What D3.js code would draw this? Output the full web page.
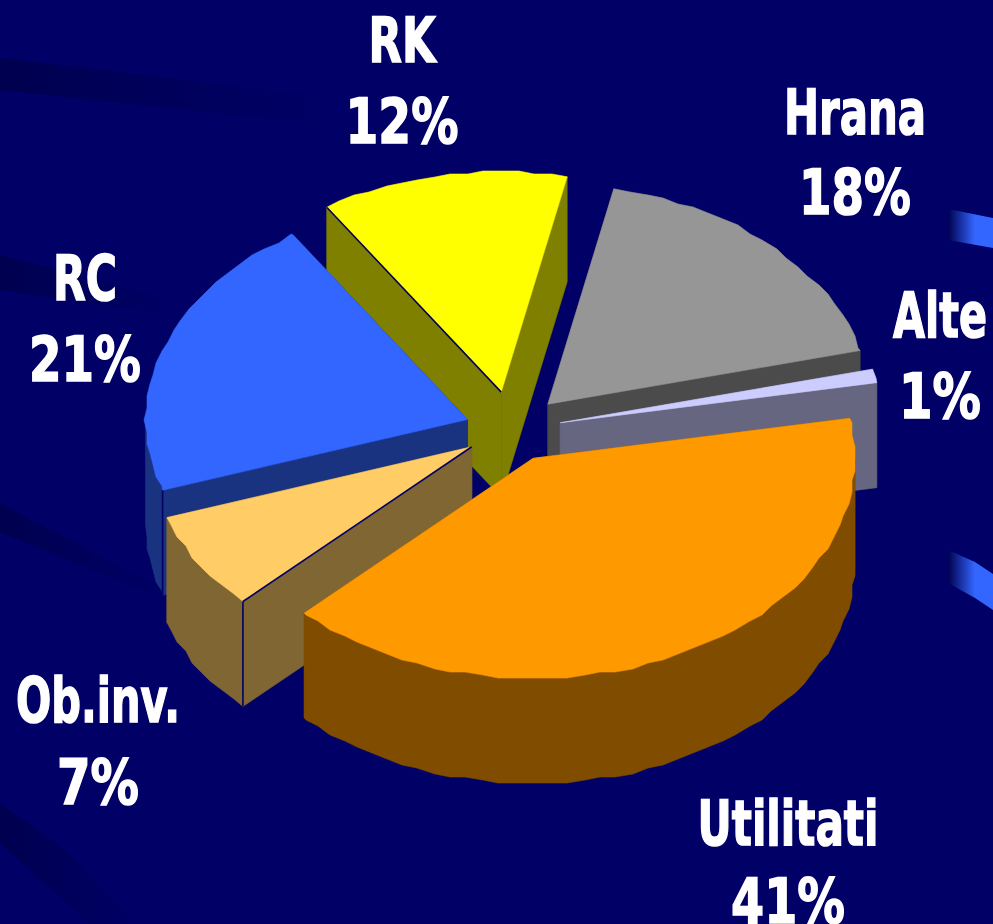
<!DOCTYPE html>
<html>
<head>
<meta charset="utf-8">
<script src="https://cdn.jsdelivr.net/npm/d3@7"></script>
<style>
html, body { margin: 0; padding: 0; background: #000066; overflow: hidden; }
svg { display: block; }
text { font-family: "DejaVu Sans", sans-serif; font-weight: 700; fill: #fff; stroke: #fff; stroke-width: 1.6; }
</style>
</head>
<body>
<div id="chart"></div>
<script>
// Chart data, clockwise from the Utilitati slice
const categories = ['Utilitati', 'Ob.inv.', 'RC', 'RK', 'Hrana', 'Alte'];
const values = [40.5, 7.2, 21.1, 12.4, 17.8, 1.0];

// Styling per slice
const topColors = ['#FF9900', '#FFCC66', '#3366FF', '#FFFF00', '#969696', '#CCCCFF'];
const wallColors = ['#804D00', '#806633', '#1A3380', '#808000', '#4B4B4B', '#666680'];
const explode = [0.145, 0.145, 0.145, 0.175, 0.163, 0.155];
const drawOrder = [3, 4, 5, 2, 1, 0];

// Label placement: centre x, width of name, width of percent, name baseline, percent baseline
const labelX = [788, 98, 85, 402, 855, 940];
const nameWidth = [181, 164, 64, 67, 142, 94];
const pctWidth = [114, 82, 112, 113, 112, 82];
const nameY = [845, 722, 300, 62, 134, 337];
const pctY = [923, 804, 381, 143, 214, 418];

// Dark swooshes in the slide background, and the two blue ones on the right
const darkBands = [
    [[0, 58], [330, 97], [330, 125], [0, 90]],
    [[0, 255], [175, 300], [175, 315], [0, 290]],
    [[0, 503], [165, 590], [165, 600], [0, 532]],
    [[0, 803], [65, 850], [138, 924], [90, 924], [0, 843]]
];
const blueBands = [
    [[948, 209], [993, 218], [993, 248], [948, 240]],
    [[948, 550], [975, 562], [993, 574], [993, 610], [975, 598], [948, 583]]
];

const width = 993, height = 924;
const cx = 511.5, cy = 430, rx = 322, ry = 220, depth = 105;
const startDeg = 79.5;

const svg = d3.select('#chart').append('svg')
    .attr('width', width)
    .attr('height', height);

const defs = svg.append('defs');

const darkGrad = defs.append('linearGradient').attr('id', 'darkFade');
darkGrad.append('stop').attr('offset', '0%').attr('stop-color', '#000050');
darkGrad.append('stop').attr('offset', '100%').attr('stop-color', '#000066');

const blueGrad = defs.append('linearGradient').attr('id', 'blueFade');
blueGrad.append('stop').attr('offset', '0%').attr('stop-color', '#000050');
blueGrad.append('stop').attr('offset', '60%').attr('stop-color', '#3366FF');
blueGrad.append('stop').attr('offset', '100%').attr('stop-color', '#3366FF');

const polyLine = d3.line();

svg.append('rect')
    .attr('width', width)
    .attr('height', height)
    .attr('fill', '#000066');

svg.selectAll('.dark-band')
    .data(darkBands)
    .join('path')
    .attr('class', 'dark-band')
    .attr('d', d => polyLine(d) + 'Z')
    .attr('fill', 'url(#darkFade)');

svg.selectAll('.blue-band')
    .data(blueBands)
    .join('path')
    .attr('class', 'blue-band')
    .attr('d', d => polyLine(d) + 'Z')
    .attr('fill', 'url(#blueFade)');

const pie = d3.pie()
    .sort(null)
    .startAngle(startDeg * Math.PI / 180)
    .endAngle((startDeg + 360) * Math.PI / 180);

const slices = pie(values);

// Position on the tilted ellipse, angle measured clockwise from 12 o'clock
function onRim(c, a) {
    return [c[0] + rx * Math.sin(a), c[1] - ry * Math.cos(a)];
}

// The source has a slightly rough rim, so the curve is snapped to a small grid.
// Sampling on whole multiples of the step keeps the top and the wall in line.
function rimPoints(c, a0, a1) {
    const step = 3 * Math.PI / 180;
    const inner = d3.range(Math.floor(a0 / step) + 1, Math.ceil(a1 / step))
        .map(k => onRim(c, k * step))
        .map(p => [Math.round(p[0] / 3) * 3, Math.round(p[1] / 3) * 3]);
    return [onRim(c, a0), ...inner, onRim(c, a1)];
}

const down = p => [p[0], p[1] + depth];

function face(pts, color) {
    pie3d.append('path')
        .attr('d', polyLine(pts) + 'Z')
        .attr('fill', color)
        .attr('stroke', color)
        .attr('stroke-width', 0.6);
}

function seam(a, b) {
    pie3d.append('path')
        .attr('d', polyLine([a, b]))
        .attr('stroke', '#000066')
        .attr('stroke-width', 1.6)
        .attr('fill', 'none');
}

const pie3d = svg.append('g');

drawOrder.forEach(i => {
    const d = slices[i];
    const mid = (d.startAngle + d.endAngle) / 2;
    const c = [cx + explode[i] * rx * Math.sin(mid), cy - explode[i] * ry * Math.cos(mid)];
    const rimA = onRim(c, d.startAngle);
    const rimB = onRim(c, d.endAngle);

    // Radial walls
    face([c, rimA, down(rimA), down(c)], wallColors[i]);
    face([c, rimB, down(rimB), down(c)], wallColors[i]);

    // Outer wall, only the part that faces the viewer
    const a0 = Math.max(d.startAngle, Math.PI / 2);
    const a1 = Math.min(d.endAngle, Math.PI * 1.5);
    if (a1 > a0) {
        const rim = rimPoints(c, a0, a1);
        face(rim.concat(rim.map(down).reverse()), wallColors[i]);
    }

    // Top
    face([c].concat(rimPoints(c, d.startAngle, d.endAngle)), topColors[i]);

    // Thin dark joins that show in the source
    if (categories[i] === 'Ob.inv.') {
        seam(rimA, down(rimA));
        seam(c, rimA);
    }
    if (categories[i] === 'RC') seam(rimA, down(rimA));
    if (categories[i] === 'RK') seam(rimA, c);
});

// The source font is narrower than DejaVu Bold, so each line is squeezed to its width
function addLabel(str, x, y, targetWidth) {
    const label = svg.append('text')
        .attr('text-anchor', 'middle')
        .attr('font-size', 63)
        .text(str);
    const natural = label.node().getComputedTextLength();
    label.attr('transform', `translate(${x},${y}) scale(${targetWidth / natural},1)`);
}

// Two line labels
categories.forEach((name, i) => {
    addLabel(name, labelX[i], nameY[i], nameWidth[i]);
    addLabel(Math.round(values[i]) + '%', labelX[i], pctY[i], pctWidth[i]);
});
</script>
</body>
</html>
